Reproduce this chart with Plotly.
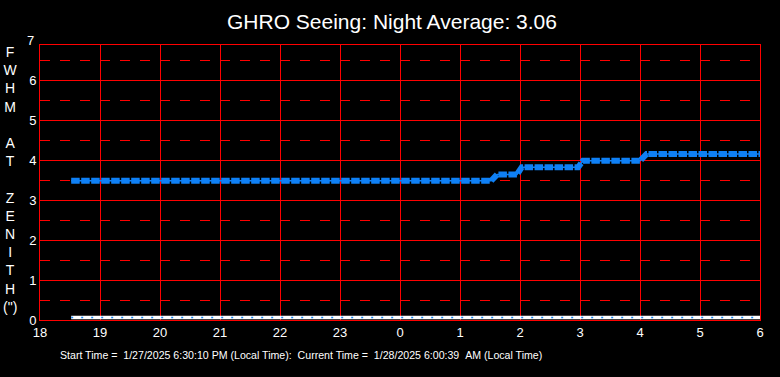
import plotly.graph_objects as go

# ---- data (hours since midnight of start day; 24+ = next morning) ----
seeing_time = [18.52, 25.52, 25.62, 25.95, 26.03, 26.97, 27.05, 28.00, 28.11, 30.02]
seeing_val = [3.48, 3.48, 3.64, 3.64, 3.82, 3.82, 3.98, 3.98, 4.15, 4.15]

base_time = [18.52, 30.0]
base_val = [0.06, 0.06]

x_tickvals = [18, 19, 20, 21, 22, 23, 24, 25, 26, 27, 28, 29, 30]
x_ticktext = ["18", "19", "20", "21", "22", "23", "0", "1", "2", "3", "4", "5", "6"]
y_tickvals = [0, 1, 2, 3, 4, 5, 6]
y_top_label = 7
y_max = 6.875

title_text = "GHRO Seeing: Night Average: 3.06"
ylabel_text = "F<br>W<br>H<br>M<br> <br>A<br>T<br> <br>Z<br>E<br>N<br>I<br>T<br>H<br>(\")"
footer_text = ("Start Time = \u00a01/27/2025 6:30:10 PM (Local Time): \u00a0Current Time = "
               "\u00a01/28/2025 6:00:39 \u00a0AM (Local Time)")

FONT = "Liberation Sans, Arial, sans-serif"
RED = "#ff0000"
BLUE = "#0f80f5"

L, T, R, B = 40, 45, 20, 57

fig = go.Figure()

# baseline series (white with blue dots)
fig.add_trace(go.Scatter(x=base_time, y=base_val, mode="lines",
                         line=dict(color="white", width=3.5), hoverinfo="skip",
                         showlegend=False))
fig.add_trace(go.Scatter(x=base_time, y=base_val, mode="lines",
                         line=dict(color=BLUE, width=1.5, dash="2px,8px"), hoverinfo="skip",
                         showlegend=False))

# seeing series
fig.add_trace(go.Scatter(x=seeing_time, y=seeing_val, mode="lines",
                         line=dict(color=BLUE, width=1.5), showlegend=False))
fig.add_trace(go.Scatter(x=seeing_time, y=seeing_val, mode="lines",
                         line=dict(color=BLUE, width=6, dash="8.5px,1.5px"), showlegend=False))

fig.update_layout(
    width=780, height=377,
    paper_bgcolor="black", plot_bgcolor="black",
    margin=dict(l=L, r=R, t=T, b=B),
    font=dict(family=FONT, color="white", size=13),
    title=dict(text=title_text, x=392 / 780, xanchor="center",
               y=1 - 22 / 377, yanchor="middle",
               font=dict(size=21, color="white", family=FONT)),
    xaxis=dict(range=[18, 30], tickvals=x_tickvals, ticktext=x_ticktext,
               showgrid=True, gridcolor=RED, gridwidth=1,
               showline=True, linecolor=RED, linewidth=1, mirror=True,
               zeroline=False, ticks="", ticklen=0,
               tickfont=dict(size=13, color="white", family=FONT)),
    yaxis=dict(range=[0, y_max], tickvals=y_tickvals,
               showgrid=True, gridcolor=RED, gridwidth=1,
               minor=dict(dtick=0.5, tick0=0, showgrid=True, gridcolor=RED, gridwidth=1,
                          griddash="10px,10px"),
               showline=True, linecolor=RED, linewidth=1, mirror=True,
               zeroline=False, ticks="", ticklen=0,
               tickfont=dict(size=13, color="white", family=FONT)),
    annotations=[
        dict(text=str(y_top_label), xref="paper", x=0, xanchor="right", xshift=-4,
             yref="paper", y=y_top_label / y_max, yanchor="middle", showarrow=False,
             font=dict(size=13, color="white", family=FONT)),
        dict(text=ylabel_text, xref="paper", yref="paper",
             x=(11 - 40) / 720, y=(320 - 179) / 275,
             xanchor="center", yanchor="middle", showarrow=False, align="center",
             font=dict(size=14, color="white", family=FONT)),
        dict(text=footer_text, xref="paper", yref="paper",
             x=(301 - 40) / 720, y=-(355 - 320) / 275,
             xanchor="center", yanchor="middle", showarrow=False,
             font=dict(size=10.6, color="white", family=FONT)),
    ],
)

fig.write_html("out.html", config={"displayModeBar": False},
               post_script="document.body.style.margin='0';document.body.style.background='black';")
